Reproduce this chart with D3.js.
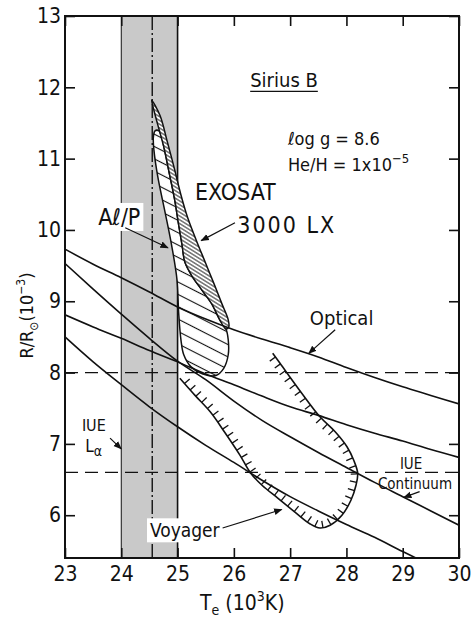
<!DOCTYPE html>
<html>
<head>
<meta charset="utf-8">
<style>
  body { margin: 0; background: #fff; }
  svg { font-family: "Liberation Sans Narrow", "DejaVu Sans Condensed", sans-serif; }
  .axis path.domain { display: none; }
  .axis line { stroke: #111; stroke-width: 1.6; }
  .axis text { font-size: 21px; fill: #111; font-family: "Liberation Sans Narrow", "DejaVu Sans Condensed", sans-serif; }
  .model { fill: none; stroke: #111; stroke-width: 1.6; }
  .note { fill: #111; }
</style>
</head>
<body>
<svg width="472" height="619"></svg>
<script src="https://d3js.org/d3.v7.min.js"></script>
<script>
// axis ticks
var xTicks = [23, 24, 25, 26, 27, 28, 29, 30];
var yTicks = [6, 7, 8, 9, 10, 11, 12, 13];

// model curves, R/Rsun (1e-3) read at these Te (1e3 K)
var teGrid  = [23, 23.5, 24, 24.5, 25, 25.5, 26, 26.5, 27, 27.5, 28, 28.5, 29, 29.5, 30];
var optical = [9.73, 9.52, 9.33, 9.13, 8.92, 8.75, 8.60, 8.47, 8.35, 8.22, 8.07, 7.93, 7.80, 7.68, 7.56];
var curveB  = [9.53, 9.17, 8.82, 8.48, 8.16, 7.90, 7.60, 7.33, 7.10, 6.88, 6.67, 6.46, 6.26, 6.06, 5.86];
var curveC  = [8.81, 8.64, 8.48, 8.31, 8.15, 7.98, 7.83, 7.67, 7.52, 7.40, 7.27, 7.15, 7.04, 6.92, 6.81];
var curveD  = [8.50, 8.15, 7.83, 7.52, 7.24, 6.98, 6.74, 6.49, 6.26, 6.06, 5.87, 5.69, 5.49, 5.30, 5.12];

// horizontal constraints (optical, IUE continuum)
var dashedR = [8.0, 6.6];

// IUE L-alpha band and its centre
var bandTe = [24.0, 25.0];
var bandMid = 24.55;

// EXOSAT 3000 LX region
var exosatTe = [24.54, 24.69, 24.81, 24.94, 25.06, 25.18, 25.33, 25.49, 25.65, 25.79, 25.90, 25.91, 25.86,
                25.75, 25.61, 25.43, 25.26, 25.13, 25.08, 25.02, 24.95, 24.86, 24.76, 24.65, 24.56];
var exosatR  = [11.82, 11.60, 11.26, 10.87, 10.49, 10.17, 9.86, 9.55, 9.24, 8.96, 8.74, 8.64, 8.61,
                8.74, 8.96, 9.16, 9.35, 9.55, 9.79, 10.07, 10.42, 10.77, 11.15, 11.47, 11.74];

// Al/P region
var alpTe = [24.60, 24.67, 24.72, 24.76, 24.86, 24.95, 25.02, 25.08, 25.13, 25.26, 25.43, 25.61, 25.75, 25.86,
             25.90, 25.90, 25.82, 25.68, 25.45, 25.24, 25.11, 25.06, 25.02, 24.99, 24.90, 24.78, 24.65, 24.58, 24.57];
var alpR  = [11.39, 11.39, 11.30, 11.15, 10.77, 10.42, 10.07, 9.79, 9.55, 9.35, 9.16, 8.96, 8.74, 8.61,
             8.46, 8.25, 8.06, 7.96, 7.98, 8.08, 8.25, 8.46, 8.83, 9.30, 9.76, 10.24, 10.74, 11.12, 11.30];

// Voyager limit (open curve, hachures inside)
var voyTe = [25.04, 25.31, 25.58, 25.84, 26.11, 26.29, 26.50, 26.78, 27.09, 27.35, 27.53, 27.71, 27.92,
             28.08, 28.17, 28.20, 28.13, 28.01, 27.80, 27.53, 27.17, 26.82, 26.69];
var voyR  = [7.92, 7.68, 7.45, 7.16, 6.84, 6.60, 6.42, 6.24, 6.04, 5.88, 5.82, 5.86, 6.00,
             6.21, 6.42, 6.59, 6.77, 6.96, 7.17, 7.38, 7.75, 8.13, 8.27];

var svg = d3.select("svg");
var x = d3.scaleLinear().domain([23, 30]).range([65, 459]);
var y = d3.scaleLinear().domain([5.4, 13]).range([558, 16]);

var defs = svg.append("defs");
defs.append("clipPath").attr("id", "plot").append("rect")
    .attr("x", x(23)).attr("y", y(13))
    .attr("width", x(30) - x(23)).attr("height", y(5.4) - y(13));

function hatch(id, gap, angle, w) {
  var p = defs.append("pattern").attr("id", id)
      .attr("patternUnits", "userSpaceOnUse")
      .attr("width", 20).attr("height", gap)
      .attr("patternTransform", "rotate(" + angle + ")");
  p.append("rect").attr("width", 20).attr("height", gap).attr("fill", "#fff");
  p.append("line").attr("x1", 0).attr("x2", 20).attr("y1", gap / 2).attr("y2", gap / 2)
      .attr("stroke", "#111").attr("stroke-width", w);
}
hatch("hAlp", 11, 27, 1.1);
hatch("hExo", 3.2, 32, 0.9);

defs.append("marker").attr("id", "arr")
    .attr("viewBox", "0 0 10 10").attr("refX", 9).attr("refY", 5)
    .attr("markerWidth", 7).attr("markerHeight", 7).attr("orient", "auto")
  .append("path").attr("d", "M0,1L10,5L0,9z").attr("fill", "#111");

var plot = svg.append("g").attr("clip-path", "url(#plot)");

// shaded IUE band
plot.append("rect")
    .attr("x", x(bandTe[0])).attr("y", y(13))
    .attr("width", x(bandTe[1]) - x(bandTe[0])).attr("height", y(5.4) - y(13))
    .attr("fill", "#c9c9c9");
plot.append("line").attr("x1", x(bandTe[0])).attr("x2", x(bandTe[0]))
    .attr("y1", y(13)).attr("y2", y(5.4)).attr("stroke", "#222").attr("stroke-width", 1.1);
plot.append("line").attr("x1", x(bandTe[1])).attr("x2", x(bandTe[1]))
    .attr("y1", y(13)).attr("y2", y(5.4)).attr("stroke", "#111").attr("stroke-width", 1.6);
plot.append("line").attr("x1", x(bandMid)).attr("x2", x(bandMid))
    .attr("y1", y(13)).attr("y2", y(5.4)).attr("stroke", "#111").attr("stroke-width", 1.4)
    .attr("stroke-dasharray", "14,3,2,3");

// regions
var outline = d3.line().x(function(d) { return x(d[0]); }).y(function(d) { return y(d[1]); })
    .curve(d3.curveCatmullRomClosed.alpha(0.5));
plot.append("path").datum(d3.zip(alpTe, alpR)).attr("d", outline)
    .attr("fill", "url(#hAlp)").attr("stroke", "#111").attr("stroke-width", 1.5);
plot.append("path").datum(d3.zip(exosatTe, exosatR)).attr("d", outline)
    .attr("fill", "url(#hExo)").attr("stroke", "#111").attr("stroke-width", 1.5);

// dashed constraints
plot.selectAll("line.dash").data(dashedR).enter().append("line")
    .attr("class", "dash")
    .attr("x1", x(23)).attr("x2", x(30))
    .attr("y1", function(d) { return y(d); }).attr("y2", function(d) { return y(d); })
    .attr("stroke", "#111").attr("stroke-width", 1.4).attr("stroke-dasharray", "13,7");

// model curves
var line = d3.line().x(function(d) { return x(d[0]); }).y(function(d) { return y(d[1]); })
    .curve(d3.curveMonotoneX);
plot.selectAll("path.model").data([optical, curveB, curveC, curveD]).enter().append("path")
    .attr("class", "model")
    .attr("d", function(r) { return line(d3.zip(teGrid, r)); });

// Voyager curve with hachures
var voyLine = d3.line().x(function(d) { return x(d[0]); }).y(function(d) { return y(d[1]); })
    .curve(d3.curveCatmullRom.alpha(0.5));
var voy = plot.append("path").datum(d3.zip(voyTe, voyR)).attr("d", voyLine)
    .attr("fill", "none").attr("stroke", "#111").attr("stroke-width", 1.6);
var vn = voy.node(), vl = vn.getTotalLength();
for (var s = 7; s < vl - 2; s += 8.5) {
  var p = vn.getPointAtLength(s),
      a = vn.getPointAtLength(Math.max(0, s - 1)),
      b = vn.getPointAtLength(Math.min(vl, s + 1)),
      dx = b.x - a.x, dy = b.y - a.y, len = Math.hypot(dx, dy);
  plot.append("line")
      .attr("x1", p.x).attr("y1", p.y)
      .attr("x2", p.x + 7 * dy / len).attr("y2", p.y - 7 * dx / len)
      .attr("stroke", "#111").attr("stroke-width", 1.3);
}

// labels
function label(txt, te, r, size, boxed) {
  var t = svg.append("text").attr("class", "note")
      .attr("x", x(te)).attr("y", y(r)).attr("font-size", size).text(txt);
  if (boxed) {
    var bb = t.node().getBBox();
    svg.insert("rect", function() { return t.node(); })
        .attr("x", bb.x - 3).attr("y", bb.y - 1)
        .attr("width", bb.width + 6).attr("height", bb.height + 2).attr("fill", "#fff");
  }
  return t;
}
function arrow(t0, r0, t1, r1) {
  svg.append("line").attr("x1", x(t0)).attr("y1", y(r0)).attr("x2", x(t1)).attr("y2", y(r1))
      .attr("stroke", "#111").attr("stroke-width", 1.2).attr("marker-end", "url(#arr)");
}

var sirius = label("Sirius B", 26.29, 12.0, 20);
var sb = sirius.node().getBBox();
svg.append("line").attr("x1", sb.x).attr("x2", sb.x + sb.width)
    .attr("y1", y(12.0) + 4).attr("y2", y(12.0) + 4).attr("stroke", "#111").attr("stroke-width", 1.3);
label("ℓog g = 8.6", 26.96, 11.19, 18);
var he = label("He/H = 1x10", 26.96, 10.83, 18);
he.append("tspan").attr("dy", -8).attr("font-size", 13).text("−5");

label("EXOSAT", 25.31, 10.42, 23);
label("3000 LX", 26.06, 9.96, 23).attr("letter-spacing", 2);
arrow(26.02, 10.10, 25.42, 9.85);

label("Aℓ/P", 23.59, 10.07, 23, true);
arrow(24.07, 10.03, 24.83, 9.75);

label("Optical", 27.35, 8.67, 20);
arrow(27.80, 8.60, 27.33, 8.27);

label("IUE", 28.95, 6.65, 15);
label("Continuum", 28.56, 6.37, 15);
arrow(29.30, 6.33, 29.02, 6.25);

label("IUE", 23.30, 7.18, 16);
var la = label("L", 23.36, 6.88, 17);
la.append("tspan").attr("dy", 4).attr("font-size", 14).text("α");
arrow(23.80, 7.08, 24.0, 6.93);

label("Voyager", 24.51, 5.69, 19, true);
arrow(25.80, 5.82, 26.85, 6.08);

// axes with inward ticks
svg.append("g").attr("class", "axis").attr("transform", "translate(0," + y(5.4) + ")")
    .call(d3.axisBottom(x).tickValues(xTicks).tickSize(-10).tickPadding(8).tickFormat(d3.format("d")));
svg.append("g").attr("class", "axis").attr("transform", "translate(" + x(23) + ",0)")
    .call(d3.axisLeft(y).tickValues(yTicks).tickSize(-10).tickPadding(4).tickFormat(d3.format("d")));
svg.append("g").attr("class", "axis").attr("transform", "translate(0," + y(13) + ")")
    .call(d3.axisTop(x).tickValues(xTicks).tickSize(-10).tickFormat(""));
svg.append("g").attr("class", "axis").attr("transform", "translate(" + x(30) + ",0)")
    .call(d3.axisRight(y).tickValues(yTicks).tickSize(-10).tickFormat(""));

svg.append("rect").attr("x", x(23)).attr("y", y(13))
    .attr("width", x(30) - x(23)).attr("height", y(5.4) - y(13))
    .attr("fill", "none").attr("stroke", "#111").attr("stroke-width", 2);

// axis titles
var xt = svg.append("text").attr("class", "note").attr("x", x(26.15))
    .attr("y", 610).attr("text-anchor", "middle").attr("font-size", 21).text("T");
xt.append("tspan").attr("dy", 5).attr("font-size", 14).text("e");
xt.append("tspan").attr("dy", -5).text(" (10");
xt.append("tspan").attr("dy", -9).attr("font-size", 14).text("3");
xt.append("tspan").attr("dy", 9).text("K)");

var yt = svg.append("text").attr("class", "note")
    .attr("transform", "translate(33," + (y(8.8)) + ") rotate(-90)")
    .attr("text-anchor", "middle").attr("font-size", 18).text("R/R");
yt.append("tspan").attr("dy", 5).attr("font-size", 12).text("⊙");
yt.append("tspan").attr("dy", -5).text("(10");
yt.append("tspan").attr("dy", -8).attr("font-size", 12).text("−3");
yt.append("tspan").attr("dy", 8).text(")");
</script>
</body>
</html>
